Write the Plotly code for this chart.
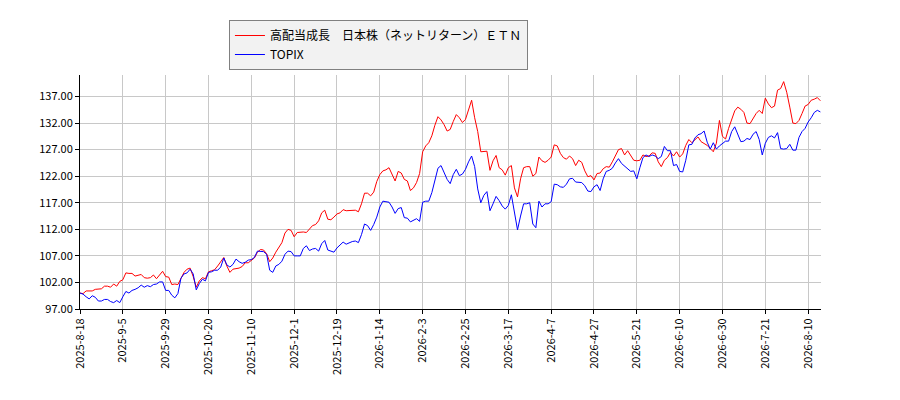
import plotly.graph_objects as go

tick_labels = ["2025-8-18", "2025-9-5", "2025-9-29", "2025-10-20", "2025-11-10",
               "2025-12-1", "2025-12-19", "2026-1-14", "2026-2-3", "2026-2-25",
               "2026-3-17", "2026-4-7", "2026-4-27", "2026-5-21", "2026-6-10",
               "2026-6-30", "2026-7-21", "2026-8-10"]
tick_step = 14

etn_name = "高配当成長　日本株（ネットリターン）ＥＴＮ"
topix_name = "TOPIX"

etn_values = [
    100.0, 99.9, 100.4, 100.4, 100.4, 100.7, 100.7, 100.8, 101.3, 101.3,
    101.1, 101.7, 101.3, 102.2, 102.5, 103.8, 103.7, 103.7, 103.2, 103.4,
    103.5, 102.9, 102.8, 102.9, 103.4, 102.7, 103.3, 104.1, 103.1, 103.0,
    101.6, 101.7, 101.6, 102.8, 103.9, 104.5, 104.7, 103.1, 101.1, 102.3,
    102.9, 102.7, 104.0, 104.2, 104.4, 105.1, 106.0, 106.7, 105.1, 103.9,
    104.5, 104.6, 104.7, 105.0, 105.7, 105.7, 106.2, 106.6, 107.7, 108.2,
    108.1, 107.4, 105.9, 106.6, 107.7, 108.5, 109.5, 111.3, 112.0, 111.8,
    110.6, 111.4, 111.5, 111.5, 111.4, 112.0, 112.7, 112.9, 113.6, 115.1,
    115.6, 113.9, 113.8, 114.3, 114.9, 115.1, 115.7, 115.5, 115.5, 115.5,
    115.6, 115.3, 116.8, 118.8, 118.8, 118.3, 119.0, 121.0, 122.3, 123.0,
    123.2, 123.6, 122.5, 121.1, 122.9, 122.6, 121.4, 121.1, 119.3, 119.8,
    120.8, 122.5, 126.6, 127.7, 128.3, 129.6, 131.6, 133.2, 132.6, 131.7,
    130.5, 130.8, 132.3, 133.6, 133.0, 132.1, 132.7, 134.3, 136.3, 133.0,
    130.4, 126.6, 126.6, 126.7, 123.1, 124.9, 125.9, 123.6, 123.2, 122.2,
    123.6, 124.0, 119.8, 118.1, 121.5, 123.6, 123.8, 123.8, 122.0, 122.5,
    125.6, 124.9, 124.6, 125.0, 125.6, 127.9, 127.7, 126.3, 125.5, 125.2,
    125.8, 125.3, 124.0, 125.0, 124.6, 123.0, 121.9, 122.1, 121.3, 122.5,
    122.6, 123.4, 123.8, 123.7, 124.7, 125.9, 127.0, 127.2, 126.0, 126.8,
    125.9, 125.0, 124.9, 125.0, 126.0, 125.7, 125.8, 126.4, 126.3, 124.7,
    123.8, 125.0, 125.5, 126.5, 125.8, 126.6, 125.6, 126.2, 127.8, 128.9,
    128.3, 128.8, 129.4, 128.5, 128.2, 127.8, 127.2, 126.6, 128.2, 132.5,
    129.5, 129.0, 131.0, 132.8, 134.3, 135.0, 134.6, 134.0, 132.0, 131.9,
    133.0, 133.8, 134.4, 133.8, 136.7, 135.6, 134.9, 135.2, 138.2, 138.5,
    139.8, 137.8, 135.0, 132.0, 131.9, 132.5, 133.8, 135.2, 135.5, 136.3,
    136.5, 136.8, 136.2,
]

topix_values = [
    100.0, 99.8, 99.3, 98.9, 99.5, 99.2, 98.5, 98.5, 98.8, 98.8,
    98.4, 98.2, 98.6, 98.2, 99.3, 100.3, 100.0, 100.5, 100.7, 101.0,
    101.5, 101.1, 101.4, 101.2, 101.6, 101.7, 102.1, 102.1, 100.5, 100.5,
    99.6, 99.1, 99.9, 102.8, 103.6, 103.8, 104.5, 103.6, 100.6, 101.8,
    102.6, 102.3, 103.9, 104.0, 104.3, 104.3, 104.9, 106.6, 105.3, 104.9,
    105.4, 106.4, 105.9, 105.6, 105.8, 106.2, 106.3, 106.7, 107.9, 107.8,
    107.8, 107.3, 104.3, 103.9, 105.1, 105.4, 106.0, 107.3, 107.9, 107.8,
    107.0, 107.0, 107.0, 108.4, 108.9, 108.0, 108.3, 108.4, 107.9, 109.3,
    109.9, 108.1, 107.9, 107.7, 108.5, 109.1, 109.6, 109.2, 109.5, 109.7,
    109.8, 109.5, 111.0, 113.0, 112.7, 111.8, 112.9, 114.3, 116.2, 117.3,
    117.2, 117.1, 116.2, 115.0, 115.9, 116.1, 114.2, 114.1, 113.4, 113.7,
    114.0, 113.5, 117.1, 117.3, 117.3, 118.9, 121.3, 123.5, 124.0, 122.6,
    121.4, 120.6, 122.3, 123.3, 122.1, 122.4, 123.3, 124.7, 125.8, 123.8,
    119.6, 117.0, 118.4, 119.1, 115.5, 116.8, 118.2, 117.4, 116.4, 115.8,
    116.5, 118.5, 115.0, 111.9, 114.5, 116.8, 116.8, 117.0, 113.0, 112.3,
    117.3, 116.2, 116.8, 116.8, 117.2, 120.5, 120.4, 120.0, 119.9, 120.5,
    121.5, 121.6, 120.9, 120.9, 120.8, 120.2, 119.2, 119.1, 120.0, 120.4,
    119.3, 121.5, 122.9, 123.1, 123.5, 124.5, 125.3, 124.4, 123.9, 123.3,
    122.9, 123.0, 121.5, 123.6, 125.5, 126.0, 125.7, 126.0, 125.8, 125.3,
    125.7, 127.6, 126.8, 126.8, 124.0, 124.2, 122.9, 122.8, 125.0, 127.9,
    128.0, 129.2, 129.8, 130.0, 130.5, 128.4, 127.1, 128.3, 127.1, 127.7,
    128.2, 128.6, 128.6, 130.4, 131.3, 129.8, 128.5, 128.6, 129.1, 128.9,
    129.9, 130.4, 128.9, 126.0, 128.2, 129.3, 129.6, 129.2, 130.2, 127.2,
    127.1, 127.2, 128.0, 126.9, 126.9, 129.3, 130.4, 131.0, 132.2, 133.0,
    134.0, 134.4, 134.1,
]

y_ticks = [97, 102, 107, 112, 117, 122, 127, 132, 137]

x_idx = list(range(len(etn_values)))
tick_vals = [i * tick_step for i in range(len(tick_labels))]

font_main = "Noto Sans CJK JP, DejaVu Sans, sans-serif"

fig = go.Figure()
fig.add_trace(go.Scatter(x=x_idx, y=etn_values, mode="lines", name=etn_name,
                         line=dict(color="#ff0000", width=1)))
fig.add_trace(go.Scatter(x=list(range(len(topix_values))), y=topix_values, mode="lines",
                         name=topix_name, line=dict(color="#0000ff", width=1)))

fig.update_layout(
    width=900, height=400,
    margin=dict(l=72, r=87, t=62, b=99),
    paper_bgcolor="white", plot_bgcolor="white",
    font=dict(family=font_main, size=11, color="#000000"),
    showlegend=True,
    legend=dict(x=0.201, y=1.235, xanchor="left", yanchor="top",
                bgcolor="#f2f2f2", bordercolor="#808080", borderwidth=1,
                font=dict(family=font_main, size=12, color="#000000"),
                tracegroupgap=0, itemwidth=30),
    xaxis=dict(range=[0, len(etn_values) - 0.8], tickmode="array", tickvals=tick_vals,
               ticktext=tick_labels, tickangle=-90, showgrid=True, gridcolor="#c8c8c8",
               gridwidth=1, showline=True, linecolor="#000000", linewidth=1,
               ticks="outside", ticklen=4, tickcolor="#000000", zeroline=False,
               tickfont=dict(size=11)),
    yaxis=dict(range=[97, 141.05], tickmode="array", tickvals=y_ticks,
               ticktext=[f"{v:.2f}" for v in y_ticks], showgrid=True,
               gridcolor="#c8c8c8", gridwidth=1, showline=True, linecolor="#000000",
               linewidth=1, ticks="outside", ticklen=4, tickcolor="#000000",
               zeroline=False, tickfont=dict(size=11)),
)

fig.write_html("out.html")
